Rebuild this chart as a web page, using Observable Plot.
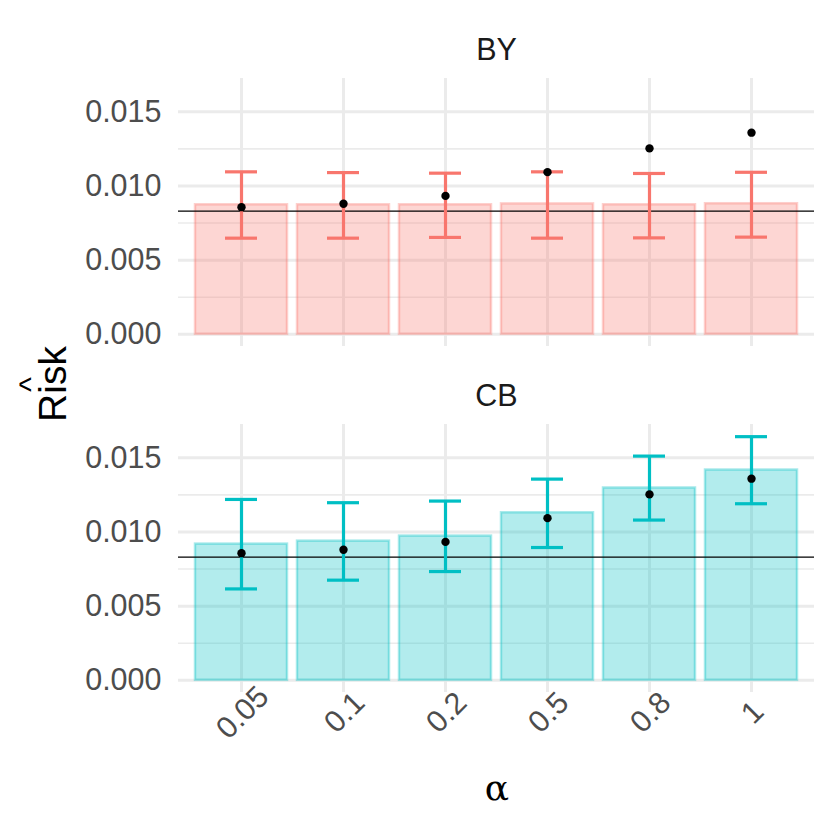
<!DOCTYPE html>
<html><head><meta charset="utf-8">
<script src="https://cdn.jsdelivr.net/npm/d3@7"></script>
<script src="https://cdn.jsdelivr.net/npm/@observablehq/plot@0.6"></script>
<style>body{margin:0;background:#fff;} #chart{width:830px;height:830px;}</style>
</head><body><div id="chart"></div>
<script>
const alphas = ["0.05","0.1","0.2","0.5","0.8","1"];
const methods = ["BY","CB"];
const estBY  = [0.00873,0.00873,0.00873,0.00879,0.00873,0.00880];
const lowBY  = [0.00648,0.00648,0.00653,0.00648,0.00650,0.00655];
const highBY = [0.01095,0.01090,0.01086,0.01095,0.01084,0.01092];
const estCB  = [0.00918,0.00938,0.00972,0.01129,0.01296,0.01417];
const lowCB  = [0.00616,0.00675,0.00733,0.00895,0.01080,0.01190];
const highCB = [0.01219,0.01197,0.01208,0.01356,0.01511,0.01642];
const pointRisk = [0.00857,0.00880,0.00933,0.01093,0.01253,0.01359];
const refRisk = 0.0083;
const yTicks = [0,0.005,0.01,0.015];
const yMinor = [0.0025,0.0075,0.0125];
const colors = ["#F8766D","#00BFC4"];

const series = {BY: [estBY, lowBY, highBY], CB: [estCB, lowCB, highCB]};
const rows = methods.flatMap(m => alphas.map((a, i) => ({
  method: m, alpha: a, est: series[m][0][i], low: series[m][1][i], high: series[m][2][i], point: pointRisk[i]
})));

const chart = Plot.plot({
  width: 830, height: 830,
  marginTop: 78, marginBottom: 138, marginLeft: 178, marginRight: 16,
  style: {fontFamily: "'Liberation Sans', Arial, sans-serif", background: "white"},
  x: {type: "band", domain: alphas, paddingInner: 0.1, paddingOuter: 0.15, axis: null},
  y: {domain: [-0.00082, 0.01724], axis: null},
  fy: {domain: methods, paddingInner: 0.2266, paddingOuter: 0, axis: null},
  color: {domain: methods, range: colors},
  marks: [
    Plot.ruleY(yMinor, {stroke: "#EBEBEB", strokeWidth: 1.6}),
    Plot.ruleY(yTicks, {stroke: "#EBEBEB", strokeWidth: 3}),
    Plot.ruleX(alphas, {x: d => d, stroke: "#EBEBEB", strokeWidth: 3}),
    Plot.barY(rows, {x: "alpha", y: "est", fy: "method", fill: "method", fillOpacity: 0.3, stroke: "method", strokeOpacity: 0.35, strokeWidth: 2.5}),
    Plot.ruleY([refRisk], {stroke: "black", strokeWidth: 1.3}),
    Plot.ruleX(rows, {x: "alpha", y1: "low", y2: "high", fy: "method", stroke: "method", strokeWidth: 3.2}),
    Plot.tickY(rows, {x: "alpha", y: "low", fy: "method", stroke: "method", strokeWidth: 3.2, insetLeft: 30, insetRight: 30}),
    Plot.tickY(rows, {x: "alpha", y: "high", fy: "method", stroke: "method", strokeWidth: 3.2, insetLeft: 30, insetRight: 30}),
    Plot.dot(rows, {x: "alpha", y: "point", fy: "method", r: 4.2, fill: "black"}),
    Plot.text(yTicks, {y: d => d, text: d => d.toFixed(3), frameAnchor: "left", dx: -17, textAnchor: "end", fontSize: 30.5, fill: "#4D4D4D"}),
    Plot.text(methods, {fy: d => d, text: d => d, frameAnchor: "top", dy: -40, fontSize: 30.5, fill: "#1A1A1A"}),
    Plot.text(alphas, {x: d => d, fy: () => "CB", text: d => d, frameAnchor: "bottom", dx: 8, dy: 27, rotate: -45, fontSize: 30.5, fill: "#4D4D4D"})
  ]
});
document.getElementById("chart").appendChild(chart);

const svg = d3.select(chart);
svg.append("text")
  .attr("transform", "translate(66,384) rotate(-90)")
  .attr("text-anchor", "middle")
  .attr("font-family", "'Liberation Sans', Arial, sans-serif")
  .attr("font-size", 39).attr("fill", "black")
  .text("Risk");
svg.append("text")
  .attr("transform", "translate(41,384.5) rotate(-90)")
  .attr("text-anchor", "middle")
  .attr("font-family", "'Liberation Sans', Arial, sans-serif")
  .attr("font-size", 32).attr("fill", "black")
  .text("^");
svg.append("text")
  .attr("x", 497).attr("y", 791)
  .attr("text-anchor", "middle").attr("dominant-baseline", "middle")
  .attr("font-family", "'DejaVu Serif', 'Liberation Serif', serif")
  .attr("font-size", 36).attr("fill", "black")
  .text("α");
</script>
</body></html>
